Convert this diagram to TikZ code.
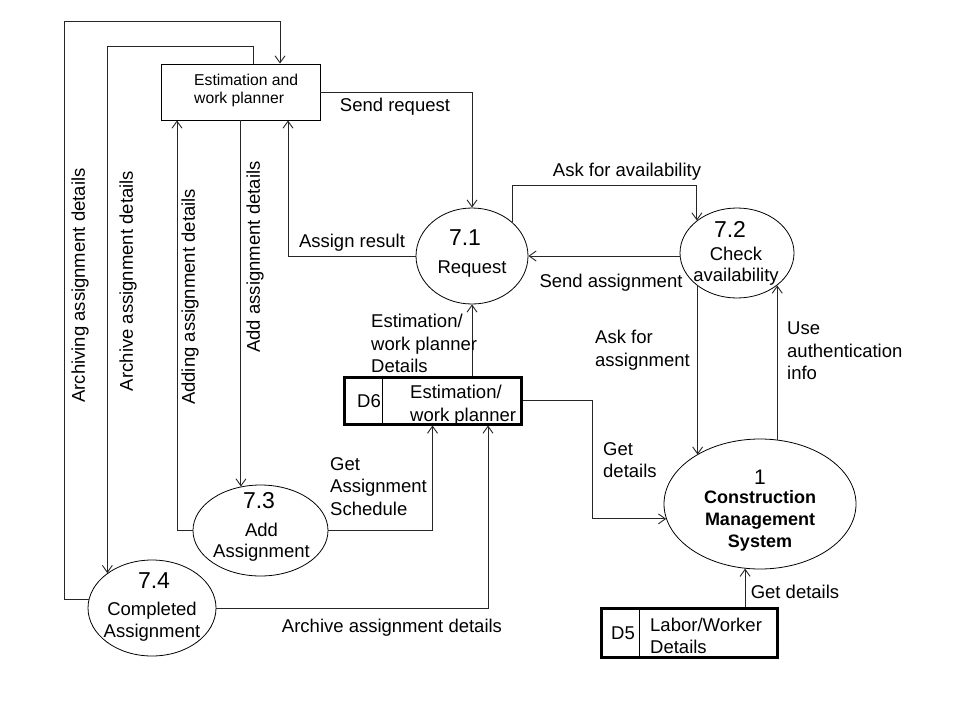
\documentclass[tikz,border=0pt]{standalone}
\usepackage{fontspec}
\setmainfont{Liberation Sans}
\usetikzlibrary{arrows.meta,shapes.geometric}
\begin{document}
\begin{tikzpicture}[x=1pt,y=-1pt,
  flow/.style={draw=black!85, line width=0.9pt,
    -{Straight Barb[length=7pt,width=10pt,line width=0.9pt]}},
  proc/.style={draw, ellipse, line width=0.8pt, inner sep=0pt},
  store/.style={draw, rectangle, line width=3pt, inner sep=0pt},
  entity/.style={draw, rectangle, line width=0.9pt, inner sep=0pt},
  divider/.style={draw, line width=0.8pt},
  lbl/.style={inner sep=0pt, font=\fontsize{18.5}{22.5}\selectfont},
  mlbl/.style={lbl, align=left, anchor=north west},
  ptext/.style={inner sep=0pt, align=center, anchor=north,
    font=\fontsize{18.5}{21.5}\selectfont},
  num/.style={inner sep=0pt, anchor=base, font=\fontsize{23}{23}\selectfont},
  vlbl/.style={lbl, rotate=90}
]
\useasboundingbox[fill=white] (0,0) rectangle (960,720);

% external entity
\node[entity, minimum width=159pt, minimum height=56pt] (planner) at (240.5,92) {};
\node[inner sep=0pt, align=left, anchor=north west,
  font=\fontsize{15.7}{18}\selectfont] (plannertxt) at (194,73.5)
  {Estimation and\\work planner};

% processes
\node[proc, minimum width=112pt, minimum height=96pt] (p71) at (472,256) {};
\node[num] (n71) at (465,245) {7.1};
\node[lbl, anchor=base] (t71) at (472,273) {Request};

\node[proc, minimum width=114pt, minimum height=90pt] (p72) at (737,253) {};
\node[num] (n72) at (730,237) {7.2};
\node[ptext] (t72) at (736,246.5) {Check\\availability};

\node[proc, minimum width=135pt, minimum height=91pt] (p73) at (260.5,530.5) {};
\node[num] (n73) at (259,508) {7.3};
\node[ptext] (t73) at (261.5,522.5) {Add\\Assignment};

\node[proc, minimum width=128pt, minimum height=96pt] (p74) at (152,608) {};
\node[num] (n74) at (154,588) {7.4};
\node[ptext, font=\fontsize{18.5}{22}\selectfont] (t74) at (152,601.5) {Completed\\Assignment};

\node[proc, minimum width=192pt, minimum height=130pt] (cms) at (760,504) {};
\node[num, font=\fontsize{21}{21}\selectfont] (ncms) at (760,484) {1};
\node[ptext, font=\fontsize{18}{22}\selectfont\bfseries] (tcms) at (760,490)
  {Construction\\Management\\System};

% data stores
\node[store, minimum width=177pt, minimum height=47pt] (d6) at (432.5,400.5) {};
\draw[divider] ([xshift=40]d6.north west) -- ([xshift=40]d6.south west);
\node[lbl, anchor=base] (d6id) at (369,407) {D6};
\node[mlbl, font=\fontsize{18.5}{23}\selectfont] (d6txt) at (410,384.5)
  {Estimation/\\work planner};

\node[store, minimum width=176pt, minimum height=49pt] (d5) at (689,632.5) {};
\draw[divider] ([xshift=40]d5.north west) -- ([xshift=40]d5.south west);
\node[lbl, anchor=base] (d5id) at (623,639) {D5};
\node[mlbl, font=\fontsize{18.5}{22}\selectfont] (d5txt) at (650,617.5)
  {Labor/Worker\\Details};

% data flows
\draw[flow] (planner.east) -| (p71.north);
\draw[flow] (p71.west) -| ([xshift=47.5]planner.south);
\draw[flow] (p71.40) |- (p72.141 |- 0,185) -- (p72.141);
\draw[flow] (p71.east -| p72.west) -- (p71.east);
\draw[flow] (p72.220) -- (p72.220 |- cms.142);
\draw[flow] (cms.75) -- (cms.75 |- p72.321);
\draw[flow] (p71.south |- d6.north) -- (p71.south);
\draw[flow] (d6.east) -| ([xshift=-74]cms.189) -- (cms.189);
\draw[flow] (cms.257 |- d5.north) -- (cms.257);
\draw[flow] (p73.east) -| (d6.south);
\draw[flow] (p74.east) -| ([xshift=55.5]d6.south);
\draw[flow] (p73.west) -| ([xshift=-63.5]planner.south);
\draw[flow] (p73.114 |- planner.south) -- (p73.114);
\draw[flow] ([xshift=12.5]planner.north) |- (p74.142 |- 0,46) -- (p74.142);
\draw[flow] (p74.172) -| (64,21) -| ([xshift=39.5]planner.north);

% flow labels
\node[lbl, anchor=base] (lsendreq) at (395,111) {Send request};
\node[lbl, anchor=base] (lassign) at (352,247) {Assign result};
\node[lbl, anchor=base] (laskavail) at (627,176) {Ask for availability};
\node[lbl, anchor=base] (lsendasg) at (611,287) {Send assignment};
\node[lbl, anchor=base] (lgetd5) at (795,598) {Get details};
\node[lbl, anchor=base] (larchbot) at (392,632) {Archive assignment details};
\node[mlbl] (lestdet) at (371,314) {Estimation/\\work planner\\Details};
\node[mlbl] (laskasg) at (595,330) {Ask for\\assignment};
\node[mlbl] (lauth) at (787,322) {Use\\authentication\\info};
\node[mlbl] (lgetd6) at (603,442) {Get\\details};
\node[mlbl] (lsched) at (330,457) {Get\\Assignment\\Schedule};
\node[vlbl] (larching) at (80,285.5) {Archiving assignment details};
\node[vlbl] (larchive) at (128,281) {Archive assignment details};
\node[vlbl] (ladding) at (190,297) {Adding assignment details};
\node[vlbl] (ladd) at (255,257) {Add assignment details};
\end{tikzpicture}
\end{document}
